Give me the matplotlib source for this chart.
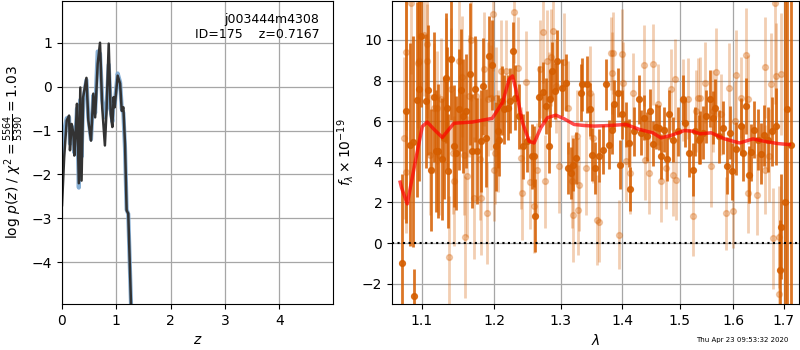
import matplotlib
matplotlib.use("Agg")
import matplotlib.pyplot as plt
from matplotlib.ticker import FixedLocator, FormatStrFormatter, NullLocator

G141_COLOR = (0.8352941176470589, 0.3686274509803922, 0.0)

# p(z) curves
z_grid = [0.0, 0.04, 0.087, 0.13, 0.147, 0.178, 0.21, 0.227, 0.25, 0.276, 0.31, 0.337,
          0.36, 0.39, 0.45, 0.485, 0.534, 0.577, 0.61, 0.657, 0.70, 0.74, 0.79, 0.82,
          0.86, 0.897, 0.927, 0.95, 0.97, 1.025, 1.07, 1.10, 1.13, 1.16, 1.19, 1.22,
          1.27, 1.30]
logpz_dark = [-2.70, -1.61, -0.77, -0.66, -1.45, -0.85, -1.07, -1.57, -1.07, -0.39, -2.20,
              -0.02, -2.14, -0.24, 0.20, -0.77, -1.23, -0.16, -0.70, 0.52, 1.00, -0.47,
              -1.34, -0.55, 0.98, -0.62, -0.92, -0.24, -0.47, 0.25, 0.07, -0.55, -0.47,
              -1.30, -2.82, -2.89, -4.93, -6.0]
logpz_blue = [-1.60, -1.00, -0.72, -0.70, -1.30, -0.90, -1.10, -1.50, -1.10, -0.50, -2.30,
              -0.30, -1.60, -0.30, 0.15, -0.70, -1.20, -0.20, -0.60, 0.80, 0.75, -0.30,
              -0.70, -0.50, 0.50, -0.50, -0.80, -0.30, -0.40, 0.30, 0.10, -0.50, -0.60,
              -1.40, -2.80, -2.90, -4.93, -6.0]

# spectrum, well-measured points (dark)
dark_wave = [1.0735, 1.0793, 1.0838, 1.0880, 1.0893, 1.0935, 1.0965, 1.0987, 1.1047, 1.1082,
             1.1125, 1.1157, 1.1188, 1.1210, 1.1272, 1.1295, 1.1317, 1.1340, 1.1350, 1.1386,
             1.1431, 1.1454, 1.1500, 1.1532, 1.1555, 1.1592, 1.1648, 1.1686, 1.1723, 1.1747,
             1.1804, 1.1842, 1.1885, 1.1923, 1.1961, 1.2027,
             1.2047, 1.2071, 1.2105, 1.2144, 1.2193, 1.2232, 1.2266, 1.2301, 1.2366, 1.2416,
             1.2489, 1.2550, 1.2580, 1.2605, 1.2666, 1.2717, 1.2768, 1.2819, 1.2834, 1.2870,
             1.2906, 1.2948, 1.3026, 1.3078, 1.3115, 1.3157, 1.3200, 1.3236, 1.3317, 1.3343,
             1.3424, 1.3467, 1.3505, 1.3543,
             1.3608, 1.3673, 1.3728, 1.3783, 1.3827, 1.3866, 1.3922, 1.3961, 1.3995, 1.4062,
             1.4108, 1.4130, 1.4205, 1.4278, 1.4318, 1.4376, 1.4415, 1.4473, 1.4531, 1.4578,
             1.4625, 1.4666, 1.4725, 1.4766, 1.4813, 1.4885, 1.4962, 1.5053, 1.5102, 1.5175,
             1.5236, 1.5285, 1.5347,
             1.5365, 1.5426, 1.5488, 1.5550, 1.5613, 1.5657, 1.5720, 1.5800, 1.5884, 1.5927,
             1.5972, 1.6057, 1.6141, 1.6186, 1.6251, 1.6296, 1.6349, 1.6401, 1.6480, 1.6533,
             1.6600, 1.6680, 1.6761, 1.6849, 1.6920, 1.6938, 1.7030, 1.7076, 1.7146]
dark_flux = [-1.0, 6.5, 4.85, 5.0, -2.6, 7.05, 7.57, 10.2, 7.0, 7.54,
             3.61, 7.21, 4.52, 4.52, 4.16, 5.18, 8.15, 6.65, 3.56, 9.06,
             4.77, 4.44, 6.58, 7.54, 6.25, 6.5, 8.32, 4.52, 7.6, 4.52,
             5.02, 7.71, 5.18, 9.19, 8.76, 4.77,
             5.51, 5.10, 7.00, 6.58, 6.67, 7.00, 9.47, 7.16, 6.25, 4.77,
             5.02, 4.27, 4.27, 1.34, 7.21, 7.44, 6.75, 4.77, 7.11, 8.48,
             7.49, 8.98, 7.66, 7.90, 3.70, 3.45, 3.86, 4.19, 7.41, 7.82,
             7.82, 6.58, 4.36, 3.70,
             4.31, 4.60, 7.82, 4.85, 5.59, 6.83, 7.41, 3.86, 6.34, 5.84,
             4.93, 2.66, 5.51, 7.08, 5.43, 6.17, 5.26, 6.50, 4.90, 5.73,
             5.68, 4.27, 5.59, 4.14, 6.34, 5.10, 5.51, 7.08, 5.92, 4.44,
             3.61, 5.51, 5.10,
             5.18, 5.43, 6.25, 7.11, 6.17, 6.67, 5.26, 5.68, 3.81, 5.43,
             3.53, 4.64, 5.76, 4.44, 6.75, 3.37, 4.47, 5.59, 5.10, 4.41,
             5.30, 5.10, 5.51, 5.76, -1.35, 0.81, 2.0, 6.58, 4.85]
dark_err = [4.4, 5.5, 5.0, 5.2, 1.3, 4.8, 4.5, 3.5, 3.3, 3.2,
            3.0, 3.2, 3.0, 3.3, 3.0, 3.0, 3.2, 3.0, 2.8, 3.0,
            3.0, 2.8, 3.0, 3.0, 2.8, 2.8, 3.5, 2.8, 2.6, 2.6,
            2.5, 2.4, 2.4, 2.0, 2.2, 2.2,
            1.8, 1.8, 1.7, 1.7, 1.6, 1.6, 1.4, 1.6, 1.6, 1.6,
            1.5, 1.6, 1.5, 1.8, 1.5, 1.5, 1.4, 1.3, 1.4, 1.4,
            1.4, 1.5, 1.4, 1.4, 1.3, 1.3, 1.3, 1.3, 1.4, 1.3,
            1.4, 1.3, 1.3, 1.3,
            1.3, 1.2, 1.25, 1.2, 1.2, 1.2, 1.2, 1.2, 1.2, 1.1,
            1.2, 1.1, 1.2, 1.2, 1.1, 1.1, 1.2, 1.1, 1.1, 1.1,
            1.1, 1.1, 1.1, 1.1, 1.2, 1.1, 1.2, 1.2, 1.2, 1.2,
            1.3, 1.2, 1.2,
            1.3, 1.3, 1.3, 1.4, 1.3, 1.4, 1.3, 1.3, 1.4, 1.3,
            1.4, 1.3, 1.4, 1.4, 1.4, 1.4, 1.4, 1.4, 1.5, 1.5,
            1.5, 1.6, 1.7, 1.9, 2.5, 2.6, 12.0, 12.0, 14.0]

# spectrum, noisier points (light)
light_wave = [1.0764, 1.0794, 1.0794, 1.0849, 1.0945, 1.0957, 1.1026, 1.1070, 1.1070, 1.1105,
              1.1159, 1.1204, 1.1227, 1.1250, 1.1317, 1.1363, 1.1385, 1.1418, 1.1432, 1.1500,
              1.1546, 1.1569, 1.1583, 1.1615, 1.1638, 1.1662, 1.1708, 1.1732, 1.1789, 1.1803,
              1.1851, 1.1899, 1.1913, 1.1947, 1.1981, 1.1995, 1.2010,
              1.2023, 1.2057, 1.2095, 1.2168, 1.2291, 1.2350, 1.2390, 1.2400, 1.2464, 1.2529,
              1.2580, 1.2630, 1.2681, 1.2717, 1.2752, 1.2783, 1.2819, 1.2855, 1.2886, 1.2922,
              1.2974, 1.3052, 1.3115, 1.3184, 1.3200, 1.3263, 1.3274, 1.3290, 1.3397, 1.3467,
              1.3521, 1.3587,
              1.3618, 1.3809, 1.3827, 1.3850, 1.3939, 1.3995, 1.4006, 1.4062, 1.4130, 1.4187,
              1.4376, 1.4393, 1.4450, 1.4531, 1.4607, 1.4666, 1.4754, 1.4843, 1.4885, 1.4921,
              1.4933, 1.5065, 1.5144, 1.5248, 1.5297, 1.5328,
              1.5365, 1.5457, 1.5581, 1.5613, 1.5676, 1.5770, 1.5864, 1.5909, 1.5991, 1.6024,
              1.6057, 1.6154, 1.6251, 1.6283, 1.6283, 1.6467, 1.6614, 1.6614, 1.6694, 1.6747,
              1.6785, 1.6829, 1.6849, 1.6895, 1.6910, 1.6952]
light_flux = [5.18, 9.39, 3.48, 11.83, 8.89, 8.98, 10.26, 9.80, 8.98, 4.36,
              6.67, 6.67, 4.36, 7.08, 8.07, -0.68, 7.57, 4.44, 3.04, 8.98,
              8.20, 4.36, 0.28, 3.28, 7.24, 10.02, 2.21, 7.24, 4.14, 2.21,
              8.56, 1.47, 7.08, 7.16, 11.29, 3.61, 4.44,
              7.16, 5.02, 8.48, 8.48, 11.37, 8.61, 4.19, 2.46, 7.94, 2.99,
              1.83, 3.61, 8.56, 10.38, 3.04, 8.98, 7.11, 9.14, 10.43, 7.74,
              3.78, 8.93, 6.67, 3.04, 1.39, 5.26, 1.63, 2.87, 3.70, 7.41,
              5.18, 1.14,
              1.06, 9.34, 8.37, 9.36, 0.40, 9.31, 7.90, 4.03, 3.45, 7.38,
              8.76, 4.11, 3.45, 8.81, 6.83, 3.04, 3.70, 7.57, 3.33, 8.07,
              3.12, 7.05, 7.11, 1.34, 6.50, 7.13,
              7.16, 7.90, 3.78, 6.50, 8.40, 6.34, 1.47, 7.66, 1.58, 6.00,
              8.27, 7.16, 9.26, 2.49, 7.08, 2.38, 8.65, 3.61, 4.30, 7.82,
              0.23, 11.83, 8.23, 0.30, -2.50, 8.32]
light_err = [4.0, 3.8, 3.0, 3.5, 3.2, 3.0, 3.0, 3.2, 2.8, 3.0,
             3.2, 2.8, 3.0, 3.0, 3.0, 3.0, 3.0, 3.0, 3.2, 3.0,
             3.0, 3.0, 3.0, 3.0, 3.0, 3.0, 3.0, 2.8, 3.0, 2.8,
             2.8, 2.5, 2.8, 2.6, 2.8, 2.5, 2.5,
             2.5, 2.5, 2.5, 2.5, 2.5, 2.5, 2.5, 2.3, 2.5, 2.3,
             2.3, 2.3, 2.4, 2.5, 2.3, 2.5, 2.3, 2.4, 2.5, 2.3,
             2.3, 2.4, 2.3, 2.3, 2.3, 2.3, 2.2, 2.3, 2.3, 2.3,
             2.2, 2.2,
             2.0, 1.8, 2.0, 2.0, 1.7, 2.2, 2.0, 2.0, 2.0, 2.0,
             2.0, 2.0, 2.0, 2.0, 2.0, 2.0, 2.0, 2.0, 2.0, 2.0,
             2.0, 2.0, 2.0, 2.0, 2.0, 2.0,
             2.0, 2.0, 2.0, 2.0, 2.2, 2.0, 1.8, 2.2, 1.8, 2.0,
             2.2, 2.0, 2.3, 2.0, 2.2, 2.0, 2.5, 2.2, 2.3, 2.5,
             2.5, 5.0, 2.6, 2.5, 3.0, 3.0]

# best-fit model
model_wave = [1.0715, 1.0733, 1.0807, 1.0916, 1.1004, 1.1070, 1.1160, 1.1272, 1.1340, 1.1431,
              1.1686, 1.1970, 1.2120, 1.2217, 1.2266, 1.2316, 1.2414, 1.2514, 1.2590, 1.2691,
              1.2793, 1.2922, 1.3052, 1.3210, 1.3369, 1.3531, 1.3782, 1.4062, 1.4288, 1.4520,
              1.4666, 1.4843, 1.5082, 1.5235, 1.5370, 1.5580, 1.5833, 1.6121, 1.6381, 1.6613,
              1.6880, 1.7119]
model_flux = [3.00, 2.72, 1.93, 4.10, 5.74, 5.96, 5.60, 5.20, 5.50, 5.90,
              5.96, 6.14, 6.93, 8.07, 8.23, 7.57, 5.94, 5.01, 4.93, 5.68,
              6.17, 6.30, 6.12, 5.84, 5.79, 5.76, 5.79, 5.84, 5.60, 5.43,
              5.18, 5.30, 5.54, 5.51, 5.38, 5.43, 5.13, 4.93, 5.13, 5.01,
              4.90, 4.85]

wave_ticks = [1.1, 1.2, 1.3, 1.4, 1.5, 1.6, 1.7]

fig = plt.figure(figsize=(8, 3.5), dpi=100)
ax = fig.add_axes([62 / 800, 46 / 350, 271 / 800, 303 / 350])
ax.plot(z_grid, logpz_blue, color="#7aa6d0", lw=3, alpha=0.9)
ax.plot(z_grid, logpz_dark, color="0.2", lw=1.8)
ax.set_xlim(0, 4.99)
ax.set_ylim(-4.95, 1.95)
ax.set_xlabel("$z$")
ax.set_ylabel(r"log $p(z)$ / $\chi^2=\frac{5564}{5390}=1.03$")
ax.grid(color="0.65", lw=0.9)
ax.text(0.95, 0.96, "j003444m4308\n" + "ID={0:<5d}  z={1:.4f}".format(175, 0.7167),
        ha="right", va="top", transform=ax.transAxes, fontsize=9)

bx = fig.add_axes([392 / 800, 46 / 350, 407 / 800, 303 / 350])
bx.errorbar(light_wave, light_flux, yerr=light_err, color=G141_COLOR, alpha=0.3,
            marker="o", ms=4.2, linestyle="None", elinewidth=2.0)
bx.errorbar(dark_wave, dark_flux, yerr=dark_err, color=G141_COLOR, alpha=0.85,
            marker="o", ms=4.2, linestyle="None", elinewidth=2.0)
bx.plot(model_wave, model_flux, color="r", lw=2.5, alpha=0.7, zorder=10)
bx.axhline(0, color="k", ls=":", lw=1.5, zorder=11)
bx.set_xscale("log")
bx.set_xlim(1.061, 1.7316)
bx.set_ylim(-3, 11.92)
bx.xaxis.set_major_locator(FixedLocator(wave_ticks))
bx.xaxis.set_major_formatter(FormatStrFormatter("%.1f"))
bx.xaxis.set_minor_locator(NullLocator())
bx.set_xlabel(r"$\lambda$")
bx.set_ylabel(r"$f_\lambda \times 10^{-19}$")
bx.grid(color="0.65", lw=0.9)

fig.text(1 - 0.015, 0.02, "Thu Apr 23 09:53:32 2020", ha="right", va="bottom", fontsize=5)

fig.savefig("out.png", dpi=100)
